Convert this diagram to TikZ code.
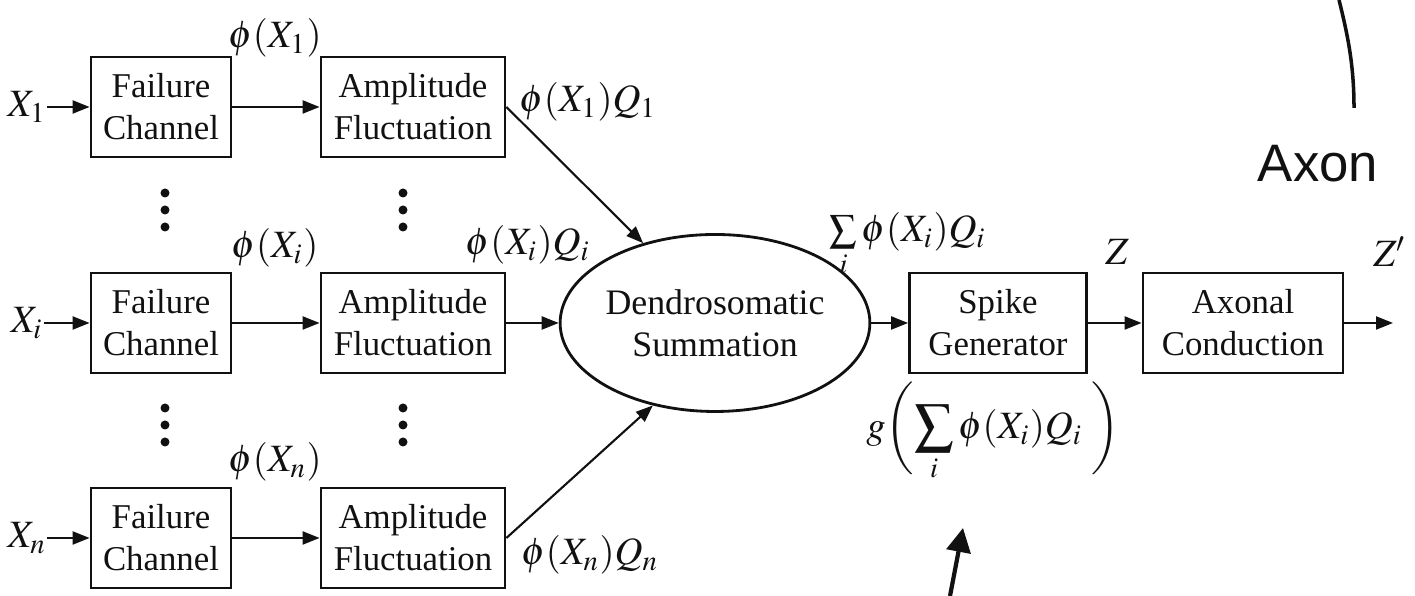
\documentclass[tikz,border=0pt]{standalone}
\usepackage{amsmath}
\usepackage{mathptmx}
\usepackage{fontspec}
\setmainfont{Liberation Serif}
\newfontfamily\axonfont{Liberation Sans}
\usepackage{tikz}
\usetikzlibrary{
arrows.meta,
positioning,
shapes.geometric
}
\definecolor{inkblack}{HTML}{111111}

\begin{document}
\begin{tikzpicture}[
    x=1cm,
    y=1cm,
    inkblack,
    block/.style={
        draw,
        rectangle,
        line width=0.8pt,
        align=center,
        inner sep=0pt,
        minimum height=1.0cm,
        font=\fontsize{9.9}{12}\selectfont
    },
    fcbox/.style={block, minimum width=1.40cm},
    afbox/.style={block, minimum width=1.84cm},
    sig/.style={
        -{Triangle[length=1.7mm,width=1.3mm]},
        line width=0.6pt
    },
    lab/.style={
        inner sep=0pt,
        font=\fontsize{11}{13}\selectfont
    }
]

\useasboundingbox (0,0) rectangle (14.15,5.96);

% =========================
% INPUT ROWS
% =========================
\node[fcbox] (fc1) at (1.61,4.89) {Failure\\Channel};
\node[afbox] (af1) at (4.13,4.89) {Amplitude\\Fluctuation};
\node[lab] (xin1) at (0.27,4.89) {$X_1$};
\node[lab] (phi1) at (2.75,5.58) {$\phi(X_1)$};

\node[fcbox] (fci) at (1.61,2.73) {Failure\\Channel};
\node[afbox] (afi) at (4.13,2.73) {Amplitude\\Fluctuation};
\node[lab] (xini) at (0.27,2.73) {$X_i$};
\node[lab] (phii) at (2.75,3.48) {$\phi(X_i)$};

\node[fcbox] (fcn) at (1.61,0.58) {Failure\\Channel};
\node[afbox] (afn) at (4.13,0.58) {Amplitude\\Fluctuation};
\node[lab] (xinn) at (0.27,0.58) {$X_n$};
\node[lab] (phin) at (2.75,1.34) {$\phi(X_n)$};

% vertical dots
\foreach \x in {1.65,4.03}
  \foreach \y in {4.03,3.86,3.69,1.88,1.71,1.54}
    \fill (\x,\y) circle (0.045);

\draw[sig] (xin1) -- (fc1);
\draw[sig] (fc1) -- (af1);
\draw[sig] (xini) -- (fci);
\draw[sig] (fci) -- (afi);
\draw[sig] (xinn) -- (fcn);
\draw[sig] (fcn) -- (afn);

% =========================
% DENDROSOMATIC SUMMATION
% =========================
\node[
    draw,
    ellipse,
    line width=0.8pt,
    inner sep=0pt,
    minimum width=2.65cm,
    minimum height=1.77cm,
    align=center,
    font=\fontsize{10.2}{12}\selectfont
]
(dsum) at (7.15,2.73)
{Dendrosomatic\\Summation};

\node[lab] (phq1) at (5.88,4.94) {$\phi(X_1)Q_1$};
\node[lab] (phqi) at (5.28,3.51) {$\phi(X_i)Q_i$};
\node[lab] (phqn) at (5.90,0.41) {$\phi(X_n)Q_n$};

\draw[sig] (af1.east) -- (dsum.132);
\draw[sig] (afi) -- (dsum);
\draw[sig] (afn.east) -- (dsum.233);

% =========================
% SPIKE GENERATOR
% =========================
\node[block, minimum width=1.77cm] (spike) at (9.98,2.73) {Spike\\Generator};
\node[lab] (sumlab) at (9.08,3.51) {$\sum\limits_{i}\phi(X_i)Q_i$};
\node[lab] (glab) at (9.93,1.64)
{$g\biggl(\displaystyle\sum_{i}\phi(X_i)Q_i\;\biggr)$};

\draw[sig] (dsum) -- (spike);

% =========================
% AXONAL CONDUCTION
% =========================
\node[block, minimum width=2.0cm] (axcond) at (12.43,2.73) {Axonal\\Conduction};
\node[lab] (zlab) at (11.17,3.44) {$Z$};
\node[lab] (zplab) at (13.90,3.44) {$Z'$};
\coordinate (zout) at (13.93,2.73);

\draw[sig] (spike) -- (axcond);
\draw[sig] (axcond) -- (zout);

% =========================
% AXON
% =========================
\node[
    inner sep=0pt,
    font=\axonfont\fontsize{15}{18}\selectfont
]
(axonlab) at (13.18,4.32) {Axon};

\coordinate (axtop) at (13.39,5.96);
\coordinate (axend) at (13.54,4.88);
\draw[line width=1pt]
(axtop) .. controls (13.48,5.6) and (13.54,5.3) .. (axend);

% pointer below g(.)
\coordinate (ptail) at (9.50,0.0);
\coordinate (ptip) at (9.63,0.68);
\draw[
    -{Triangle[length=2.4mm,width=2.4mm]},
    line width=1.2pt
]
(ptail) -- (ptip);

\end{tikzpicture}
\end{document}
